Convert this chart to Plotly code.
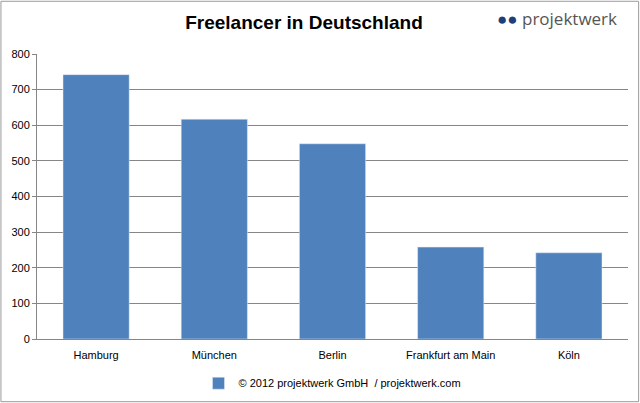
import plotly.graph_objects as go

cities = ["Hamburg", "München", "Berlin", "Frankfurt am Main", "Köln"]
freelancer = [742, 617, 548, 258, 242]
y_ticks = [0, 100, 200, 300, 400, 500, 600, 700, 800]

fig = go.Figure()
fig.add_trace(go.Bar(
    x=cities, y=freelancer,
    name="© 2012 projektwerk GmbH  / projektwerk.com",
    marker=dict(color="#4f81bd"), width=0.56,
))

fig.update_layout(
    width=640, height=403,
    paper_bgcolor="white", plot_bgcolor="white",
    font=dict(family="Liberation Sans, Arial", size=11, color="#000"),
    title=dict(text="<b>Freelancer in Deutschland</b>", x=0.475, xanchor="center",
               y=0.945, yanchor="middle", font=dict(size=19, family="Liberation Sans, Arial")),
    margin=dict(l=37, r=12, t=54, b=64, autoexpand=False),
    showlegend=True,
    legend=dict(orientation="h", x=0.5, xanchor="center", y=-0.155, yanchor="middle",
                font=dict(size=11)),
)
fig.update_yaxes(range=[0, 800], tickvals=y_ticks, gridcolor="#868686", gridwidth=1,
                 showline=True, linecolor="#868686", ticks="outside", tickcolor="#868686",
                 ticklen=4, zeroline=False)
fig.update_xaxes(showline=True, linecolor="#868686", ticks="outside", tickcolor="white",
                 ticklen=6, tickfont=dict(size=11))

fig.add_annotation(xref="paper", yref="paper", x=0.985, y=1.125, xanchor="right", yanchor="middle",
                   text="<span style='color:#1f3f7a'>●</span><span style='color:#1f3f7a'>●</span> <span style='color:#555'>projektwerk</span>",
                   showarrow=False, font=dict(size=17, family="Open Sans"))

fig.add_shape(type="rect", xref="paper", yref="paper", x0=-0.061, x1=1.018, y0=-0.22, y1=1.185,
              line=dict(color="#9a9a9a", width=1))

fig.write_html("out.html", config={"displayModeBar": False},
               post_script="document.body.style.margin='0';")
